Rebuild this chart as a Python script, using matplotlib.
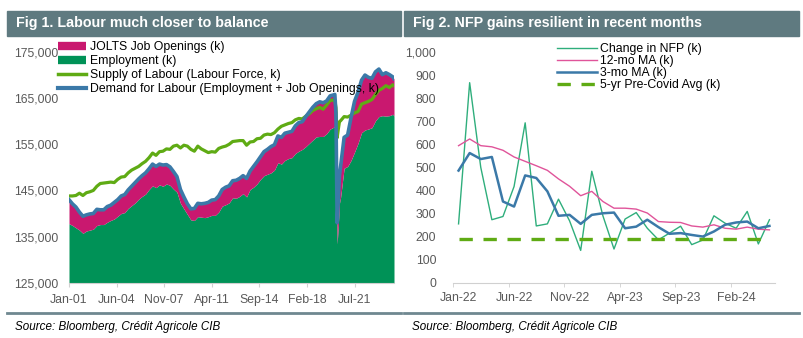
import numpy as np
import pandas as pd
import matplotlib
matplotlib.use("Agg")
import matplotlib.pyplot as plt
from matplotlib.lines import Line2D
from matplotlib.patches import Rectangle
from matplotlib.ticker import FuncFormatter

plt.rcParams['font.family'] = ['Liberation Sans', 'DejaVu Sans']

# ---- Fig 1 data (k), quarterly + monthly around covid ----
dates = ['2001-01', '2001-04', '2001-07', '2001-10',
         '2002-01', '2002-04', '2002-07', '2002-10',
         '2003-01', '2003-04', '2003-07', '2003-10',
         '2004-01', '2004-04', '2004-07', '2004-10',
         '2005-01', '2005-04', '2005-07', '2005-10',
         '2006-01', '2006-04', '2006-07', '2006-10',
         '2007-01', '2007-04', '2007-07', '2007-10',
         '2008-01', '2008-04', '2008-07', '2008-10',
         '2009-01', '2009-04', '2009-07', '2009-10',
         '2010-01', '2010-04', '2010-07', '2010-10',
         '2011-01', '2011-04', '2011-07', '2011-10',
         '2012-01', '2012-04', '2012-07', '2012-10',
         '2013-01', '2013-04', '2013-07', '2013-10',
         '2014-01', '2014-04', '2014-07', '2014-10',
         '2015-01', '2015-04', '2015-07', '2015-10',
         '2016-01', '2016-04', '2016-07', '2016-10',
         '2017-01', '2017-04', '2017-07', '2017-10',
         '2018-01', '2018-04', '2018-07', '2018-10',
         '2019-01', '2019-04', '2019-07', '2019-10',
         '2020-01', '2020-02', '2020-03', '2020-04', '2020-05', '2020-06', '2020-07', '2020-10',
         '2021-01', '2021-04', '2021-07', '2021-10',
         '2022-01', '2022-04', '2022-07', '2022-10',
         '2023-01', '2023-04', '2023-07', '2023-10',
         '2024-01', '2024-04', '2024-05']

employment = [137800, 137400, 136900, 136400,
              135700, 136200, 136400, 136600,
              137400, 137600, 137600, 138100,
              138500, 138800, 139400, 140000,
              140200, 141100, 141700, 142300,
              143100, 143700, 144200, 145200,
              146000, 145600, 146200, 145900,
              146400, 146100, 145300, 144600,
              142200, 141000, 139800, 138600,
              138500, 139300, 139200, 139100,
              139300, 139600, 139600, 140300,
              141600, 141900, 142300, 143400,
              143300, 143700, 144300, 143600,
              145200, 145700, 146400, 147400,
              148200, 148500, 148800, 149400,
              151000, 150700, 151500, 151900,
              152100, 153000, 153500, 153900,
              154500, 155200, 155900, 156600,
              156700, 156700, 157300, 158300,
              158700, 158800, 155800, 133400, 137200, 142200, 143500, 149800,
              150200, 151500, 153300, 155200,
              157500, 158100, 158300, 158600,
              160100, 161000, 161200, 161100,
              161200, 161500, 161100]

job_openings = [5200, 4700, 4500, 3900,
                3700, 3500, 3500, 3400,
                3500, 3200, 3200, 3400,
                3300, 3600, 3600, 3800,
                3900, 4000, 4200, 4400,
                4400, 4500, 4600, 4500,
                4700, 4600, 4500, 4600,
                4200, 4000, 3800, 3400,
                3000, 2600, 2300, 2400,
                2600, 2900, 2900, 3100,
                3100, 3300, 3400, 3500,
                3600, 3800, 3700, 3700,
                3900, 3900, 3900, 4000,
                4000, 4500, 4800, 4900,
                5200, 5400, 5700, 5500,
                5800, 5800, 5900, 5700,
                5700, 6000, 6200, 6000,
                6500, 6800, 7100, 7200,
                7500, 7300, 7100, 7200,
                7000, 7000, 6000, 4600, 5400, 6000, 6700, 6700,
                6800, 9300, 11000, 11100,
                11400, 11900, 11200, 10700,
                10600, 10300, 8900, 9400,
                8900, 8100, 8100]

labour_force = [143800, 143800, 143900, 144400,
                143900, 144500, 144700, 145000,
                145900, 146500, 146600, 146700,
                146800, 146700, 147400, 147900,
                148000, 148800, 149400, 149800,
                150200, 150800, 151300, 152100,
                153100, 152600, 153400, 153500,
                154000, 153900, 154600, 154800,
                154200, 154800, 154600, 153900,
                153500, 154600, 154000, 153600,
                153200, 153400, 153300, 154100,
                154400, 154600, 155000, 155600,
                155700, 155800, 155800, 154800,
                155500, 155600, 156200, 156300,
                157000, 157200, 157100, 157500,
                158300, 158900, 159200, 159500,
                159700, 160300, 160600, 160500,
                161100, 161600, 162300, 162700,
                163000, 162600, 163500, 164500,
                164600, 164500, 162900, 156400, 158200, 159900, 160100, 161000,
                160900, 161300, 161800, 162100,
                163700, 164000, 164300, 164700,
                165800, 166700, 167100, 167700,
                167300, 167900, 167700]

left_ticks = ['2001-01', '2004-06', '2007-11', '2011-04', '2014-09', '2018-02', '2021-07']
left_ticklabels = ['Jan-01', 'Jun-04', 'Nov-07', 'Apr-11', 'Sep-14', 'Feb-18', 'Jul-21']

# ---- Fig 2 data (k), monthly Jan-22 .. May-24 ----
months = pd.date_range('2022-01-01', '2024-05-01', freq='MS').strftime('%b-%y').tolist()
nfp_change = [255, 867, 500, 273, 287, 417, 693, 246, 255, 362, 268, 140,
              483, 290, 146, 276, 304, 236, 186, 215, 245, 165, 185, 290,
              258, 236, 309, 168, 273]
ma_12 = [594, 623, 594, 589, 574, 545, 526, 507, 487, 450, 418, 377,
         396, 352, 323, 323, 319, 302, 265, 262, 261, 246, 241, 251,
         236, 232, 241, 232, 229]
ma_3 = [486, 562, 536, 545, 352, 330, 465, 454, 396, 290, 294, 255,
        294, 301, 304, 236, 243, 273, 241, 212, 215, 207, 200, 222,
        251, 261, 265, 236, 246]
pre_covid_avg = 191

W, H = 804, 338
fig = plt.figure(figsize=(W / 100, H / 100), dpi=100)

def fx(x):
    return x / W

def fy(y):
    return 1 - y / H

header_col = '#5f7a80'
sep_col = '#6f8890'
tick_col = '#595959'

# header bars + titles
for x0, x1, title in [(7, 401, 'Fig 1. Labour much closer to balance'),
                      (404, 799, 'Fig 2. NFP gains resilient in recent months')]:
    fig.patches.append(Rectangle((fx(x0), fy(36)), fx(x1 - x0), (36 - 11) / H,
                                 transform=fig.transFigure, color=header_col, zorder=0))
    fig.text(fx(x0 + 9), fy(23.5), title, color='white', fontsize=10.3,
             fontweight='bold', va='center', ha='left')
    fig.add_artist(Line2D([fx(x0), fx(x1)], [fy(313), fy(313)], color=sep_col, lw=2))
    fig.text(fx(x0 + 8), fy(327), 'Source: Bloomberg, Crédit Agricole CIB',
             fontsize=8.4, style='italic', va='center', ha='left', color='black')

# ---------------- Fig 1 ----------------
ax1 = fig.add_axes([fx(69), fy(282.7), fx(394 - 69), (282.7 - 52) / H])
d = pd.to_datetime(dates)
emp = np.array(employment)
demand = emp + np.array(job_openings)

emp_col = '#009257'
jolts_col = '#c9186f'
lf_col = '#5fab14'
dem_col = '#3b79a8'

ax1.fill_between(d, 125000, emp, color=emp_col, lw=0)
ax1.fill_between(d, emp, demand, color=jolts_col, lw=0)
ax1.plot(d, labour_force, color=lf_col, lw=2.3)
ax1.plot(d, demand, color=dem_col, lw=2.6)

ax1.set_ylim(125000, 175000)
ax1.set_yticks(range(125000, 175001, 10000))
ax1.yaxis.set_major_formatter(FuncFormatter(lambda v, p: f'{int(v):,}'))
ax1.set_xlim(d[0], d[-1])
ax1.set_xticks(pd.to_datetime(left_ticks))
ax1.set_xticklabels(left_ticklabels)

for s in ['top', 'right', 'left']:
    ax1.spines[s].set_visible(False)
ax1.spines['bottom'].set_color('#d0d0d0')
ax1.tick_params(axis='y', length=0, labelsize=8.8, labelcolor=tick_col, pad=8)
ax1.tick_params(axis='x', length=3, color='#d0d0d0', labelsize=8.8, labelcolor=tick_col, pad=5)

h1 = [Line2D([], [], color=jolts_col, lw=6, solid_capstyle='butt'),
      Line2D([], [], color=emp_col, lw=6, solid_capstyle='butt'),
      Line2D([], [], color=lf_col, lw=2.5),
      Line2D([], [], color=dem_col, lw=3)]
l1 = ['JOLTS Job Openings (k)', 'Employment (k)', 'Supply of Labour (Labour Force, k)',
      'Demand for Labour (Employment + Job Openings, k)']
fig.legend(h1, l1, loc='upper left', bbox_to_anchor=(fx(58), fy(41)), frameon=False,
           fontsize=8.8, handlelength=2.3, handletextpad=0.35, labelspacing=0.17,
           borderpad=0, borderaxespad=0)

# ---------------- Fig 2 ----------------
ax2 = fig.add_axes([fx(453), fy(282.7), fx(775 - 453), (282.7 - 52) / H])
xi = np.arange(len(months))
ax2.plot(xi, nfp_change, color='#2fae7c', lw=1.0, label='Change in NFP (k)')
ax2.plot(xi, ma_12, color='#e0549a', lw=1.0, label='12-mo MA (k)')
ax2.plot(xi, ma_3, color='#3b79a8', lw=1.8, label='3-mo MA (k)')
ax2.plot(xi, [pre_covid_avg] * len(xi), color='#5fab14', lw=2.4, ls=(0, (4, 3.2)),
         label='5-yr Pre-Covid Avg (k)')

ax2.set_ylim(0, 1000)
ax2.set_yticks(range(0, 1001, 100))
ax2.yaxis.set_major_formatter(FuncFormatter(lambda v, p: f'{int(v):,}'))
ax2.set_xlim(-0.5, len(months) - 0.5)
ax2.set_xticks(xi[::5])
ax2.set_xticklabels(months[::5])
ax2.set_xticks(np.arange(-0.5, len(months), 5), minor=True)
for s in ['top', 'right', 'left']:
    ax2.spines[s].set_visible(False)
ax2.spines['bottom'].set_color('#d0d0d0')
ax2.tick_params(axis='y', length=0, labelsize=8.8, labelcolor=tick_col, pad=12)
ax2.tick_params(axis='x', which='major', length=0, labelsize=8.8, labelcolor=tick_col, pad=7)
ax2.tick_params(axis='x', which='minor', length=3, color='#d0d0d0')

ax2.legend(loc='upper left', bbox_to_anchor=(fx(557), fy(43)),
           bbox_transform=fig.transFigure, frameon=False, fontsize=8.8,
           handlelength=3.3, handletextpad=0.25, labelspacing=0.0,
           borderpad=0, borderaxespad=0)

fig.savefig('out.png', dpi=100)
